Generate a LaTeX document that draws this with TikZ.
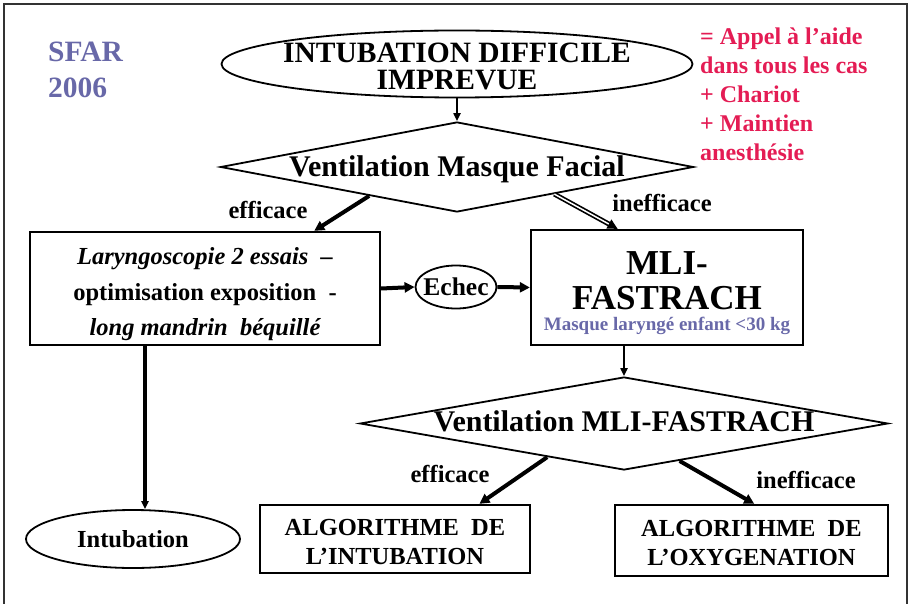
\documentclass[tikz,border=0pt]{standalone}
\usepackage{fontspec}
\setmainfont{Liberation Serif}
\usetikzlibrary{shapes.geometric,arrows.meta,calc}
\definecolor{sfarblue}{RGB}{104,104,168}
\definecolor{aidered}{RGB}{228,28,84}
\newcommand{\milieu}[1]{\raisebox{-.33em}[.4em][.4em]{#1}}
\begin{document}
\begin{tikzpicture}[x=1pt,y=-1pt,
    every node/.style={inner sep=0pt,font=\bfseries},
    boite/.style={draw,line width=2.3pt,rectangle,align=center},
    ovale/.style={draw,line width=1.8pt,ellipse,align=center},
    losange/.style={draw,line width=1.8pt,diamond,inner xsep=-60pt},
    fleche/.style={-{Triangle[length=10pt,width=10pt]},line width=4pt},
    fin/.style={-{Triangle[length=8pt,width=7pt]},line width=2.2pt},
    gros/.style={font=\bfseries\fontsize{29.5}{27}\selectfont},
    moyen/.style={font=\bfseries\fontsize{24.5}{29}\selectfont}]
    \useasboundingbox(0,0)rectangle(909,604);
    \draw[line width=2.6pt,black!80](4,620)--(4,4)--(907,4)--(907,620);
    \node[anchor=north west,align=left,text=sfarblue,font=\bfseries\fontsize{29.5}{36}\selectfont](sfar)at(48,42){SFAR\\2006};
    \node[anchor=north west,align=left,text=aidered,font=\bfseries\fontsize{24}{29}\selectfont](aide)at(700,28){= Appel à l’aide\\dans tous les cas\\+ Chariot\\+ Maintien\\anesthésie};
    \node[ovale,gros,minimum width=471pt,minimum height=67pt,inner xsep=-10pt,inner ysep=-5pt](idi)at(457,64){\rule{0pt}{24pt}INTUBATION DIFFICILE\\IMPREVUE};
    \node[losange,font=\bfseries\fontsize{30}{30}\selectfont,aspect=5.25,minimum width=473pt,minimum height=90pt](vmf)at(457,167){\milieu{Ventilation Masque Facial}};
    \node[boite,minimum width=350pt,minimum height=113pt,font=\bfseries\fontsize{24.5}{35.5}\selectfont](laryngo)at(205,288.5){\rule{0pt}{29pt}\itshape Laryngoscopie 2 essais~~–\\optimisation exposition~~-\\\itshape long mandrin~~béquillé};
    \node[ovale,font=\bfseries\fontsize{25.5}{25.5}\selectfont,minimum width=81pt,minimum height=43pt,inner xsep=-4pt](echec)at(456,287){\milieu{Echec}};
    \node[boite,minimum width=272pt,minimum height=115pt](mli)at(667,287.5){\fontsize{35}{35}\selectfont
        \begin{tabular}{@{}c@{}}\rule{0pt}{40pt}MLI-\\FASTRACH\\[-14pt]\fontsize{19}{20}\selectfont\color{sfarblue}Masque laryngé enfant <30 kg\end{tabular}};
    \node[losange,font=\bfseries\fontsize{30}{30}\selectfont,aspect=5.68,minimum width=528pt,minimum height=93pt](vmli)at(624,423.5){\raisebox{-.28em}[.4em][.4em]{Ventilation MLI-FASTRACH}};
    \node[ovale,moyen,minimum width=214pt,minimum height=58pt](intub)at(133,539){\milieu{Intubation}};
    \node[boite,moyen,minimum width=270pt,minimum height=68pt](algint)at(395,539){\rule{0pt}{22pt}ALGORITHME~~DE\\L’INTUBATION};
    \node[boite,moyen,minimum width=273pt,minimum height=71pt](algoxy)at(751.5,540.5){\rule{0pt}{22pt}ALGORITHME~~DE\\L’OXYGENATION};
    \node[moyen](eff)at(268,210){\milieu{efficace}};
    \node[moyen](ineff)at(662,203){\milieu{inefficace}};
    \node[moyen](eff2)at(450,474){\milieu{efficace}};
    \node[moyen](ineff2)at(806,480){\milieu{inefficace}};
    \draw[fin](idi.south)--(vmf.north);
    \draw[fleche]($(vmf.west)!0.63!(vmf.south)$)--($(laryngo.north west)!0.81!(laryngo.north east)$);
    \draw[fleche,line width=1.7pt,double,double distance=1.5pt]($(vmf.south)!0.41!(vmf.east)$)--($(mli.north west)!0.32!(mli.north east)$);
    \draw[fleche](laryngo.east)--(echec.west);
    \draw[fleche](echec.east)--(mli.west);
    \draw[fin,line width=3.2pt]([xshift=-60pt]laryngo.south)--([xshift=12pt]intub.north);
    \draw[fin](mli.south-|vmli.north)--(vmli.north);
    \draw[fleche]($(vmli.west)!0.71!(vmli.south)$)--($(algint.north west)!0.81!(algint.north east)$);
    \draw[fleche]($(vmli.south)!0.21!(vmli.east)$)--($(algoxy.north west)!0.51!(algoxy.north east)$);
\end{tikzpicture}
\end{document}
